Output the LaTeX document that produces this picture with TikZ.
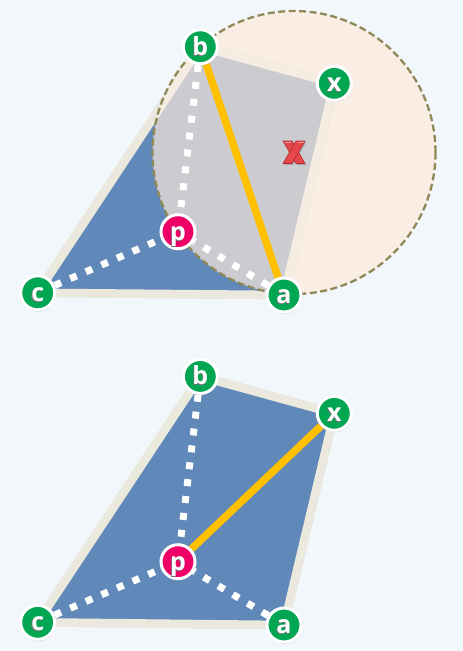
\documentclass[tikz,border=0pt]{standalone}
\usepackage{fontspec}
\setmainfont{Open Sans}
\usetikzlibrary{shadows}
\definecolor{bgc}{HTML}{F2F7FC}
\definecolor{bluef}{HTML}{6088B8}
\definecolor{greyf}{HTML}{CBCBD0}
\definecolor{peach}{HTML}{FAEEE4}
\definecolor{edgec}{HTML}{EBE8DE}
\definecolor{edgein}{HTML}{F5ECE2}
\definecolor{yel}{HTML}{FFC000}
\definecolor{grn}{HTML}{00A651}
\definecolor{pnk}{HTML}{EE0066}
\definecolor{olive}{HTML}{8F8958}
\definecolor{xred}{HTML}{E5484B}
\definecolor{xdark}{HTML}{B52A2E}
\newcommand{\shl}[1]{\rlap{\kern-0.8pt\raisebox{-0.9pt}{\textcolor{black!55}{#1}}}#1}
\pgfdeclarelayer{back}
\pgfdeclarelayer{mid}
\pgfsetlayers{back,mid,main}
\begin{document}
\begin{tikzpicture}[x=1pt,y=-1pt,
  vtx/.style={circle, draw=white, line width=3pt, minimum size=34pt, inner sep=0pt,
    text=white, font=\fontsize{25}{25}\selectfont\bfseries, text height=17pt, text depth=0pt,
    drop shadow={shadow xshift=0.5pt, shadow yshift=-1.8pt, opacity=0.35}},
  gv/.style={vtx, fill=grn},
  pv/.style={vtx, fill=pnk},
  edgeline/.style={line width=8.5pt, line join=round},
  dotline/.style={white, line width=7pt, dash pattern=on 7pt off 10pt},
  yline/.style={yel, line width=7.5pt},
  circborder/.style={olive, line width=2.3pt, dash pattern=on 7pt off 3.5pt},
  xmark/.style={fill=xred, draw=xdark, line width=0.6pt, line join=round}]
\useasboundingbox (0,0) rectangle (463,651);
% ---------- top ----------
\node[gv] (b) at (200.3,46.7) {\shl{b}};
\node[gv] (x) at (334.3,83.3) {\shl{x}};
\node[pv] (p) at (178,231.7) {\shl{p}};
\node[gv] (c) at (37.7,292.8) {\shl{c}};
\node[gv] (a) at (284,295) {\shl{a}};
\coordinate (cc) at (294,152.5);
% ---------- bottom ----------
\node[gv] (b2) at (200.3,376.4) {\shl{b}};
\node[gv] (x2) at (334.3,413.3) {\shl{x}};
\node[pv] (p2) at (178,561.7) {\shl{p}};
\node[gv] (c2) at (37.7,622.3) {\shl{c}};
\node[gv] (a2) at (284,625) {\shl{a}};
\begin{pgfonlayer}{back}
  \fill[bgc] (0,0) rectangle (463,651);
  % top
  \fill[peach] (cc) circle[radius=141.5];
  \draw[edgeline, black, opacity=0.10, shift={(0.5,2)}] (c.center) -- (b.center) -- (x.center) -- (a.center) -- cycle;
  \fill[bluef] (c.center) -- (b.center) -- (x.center) -- (a.center) -- cycle;
  \draw[edgeline, edgec] (c.center) -- (b.center) -- (x.center) -- (a.center) -- cycle;
  \begin{scope}
    \clip (cc) circle[radius=141.5];
    \fill[greyf] (c.center) -- (b.center) -- (x.center) -- (a.center) -- cycle;
    \draw[edgeline, edgein] (c.center) -- (b.center) -- (x.center) -- (a.center) -- cycle;
  \end{scope}
  \draw[circborder] (cc) circle[radius=141.5];
  % bottom
  \draw[edgeline, black, opacity=0.10, shift={(0.5,2)}] (c2.center) -- (b2.center) -- (x2.center) -- (a2.center) -- cycle;
  \fill[bluef] (c2.center) -- (b2.center) -- (x2.center) -- (a2.center) -- cycle;
  \draw[edgeline, edgec] (c2.center) -- (b2.center) -- (x2.center) -- (a2.center) -- cycle;
\end{pgfonlayer}
\begin{pgfonlayer}{mid}
  \draw[yline] (b) -- (a);
  \draw[dotline] (b) -- (p);
  \draw[dotline] (c) -- (p);
  \draw[dotline] (a) -- (p);
  % red cross mark at the circle centre
  \begin{scope}[shift={(cc)}]
    \fill[black, opacity=0.18] (-10,-10) -- (-1,-10) -- (12,12.5) -- (3,12.5) -- cycle;
    \fill[black, opacity=0.18] (3,-10) -- (12,-10) -- (-1,12.5) -- (-10,12.5) -- cycle;
    \path[xmark] (-11,-11.5) -- (-2,-11.5) -- (11,11) -- (2,11) -- cycle;
    \path[xmark] (2,-11.5) -- (11,-11.5) -- (-2,11) -- (-11,11) -- cycle;
    \fill[xred] (-0.5,-3) -- (0.5,-3) -- (0.5,3) -- (-0.5,3) -- cycle;
    \draw[white, opacity=0.45, line width=0.8pt] (-9.5,-10.3) -- (-3,-10.3);
    \draw[white, opacity=0.45, line width=0.8pt] (3.5,-10.3) -- (10,-10.3);
  \end{scope}
  \draw[yline] (p2) -- (x2);
  \draw[dotline] (b2) -- (p2);
  \draw[dotline] (c2) -- (p2);
  \draw[dotline] (a2) -- (p2);
\end{pgfonlayer}
\end{tikzpicture}
\end{document}
